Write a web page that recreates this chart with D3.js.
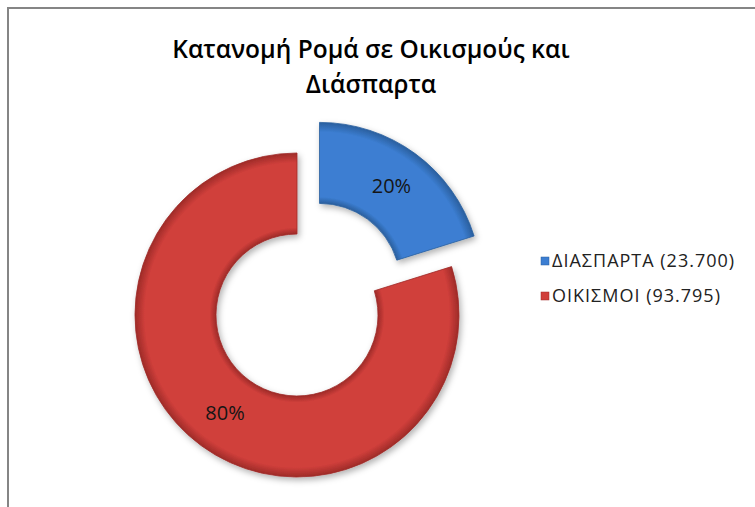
<!DOCTYPE html>
<html>
<head>
<meta charset="utf-8">
<script src="https://cdn.jsdelivr.net/npm/d3@7"></script>
<style>
  body { margin: 0; background: #fff; }
  text { font-family: "Open Sans", "Noto Sans", sans-serif; }
</style>
</head>
<body>
<div id="chart"></div>
<script>
// data
const categories = ["ΔΙΑΣΠΑΡΤΑ", "ΟΙΚΙΣΜΟΙ"];
const values = [23700, 93795];
const legendLabels = ["ΔΙΑΣΠΑΡΤΑ (23.700)", "ΟΙΚΙΣΜΟΙ (93.795)"];
const colors = ["#3c7ed2", "#d03f3b"];
const darkColors = ["#2a5f9e", "#9e2b28"];

const width = 755, height = 507;
const cx = 297, cy = 315;
const outerR = 162, innerR = 81;
const explode = [38, 0];

const svg = d3.select("#chart").append("svg")
  .attr("width", width)
  .attr("height", height);

// frame
svg.append("rect")
  .attr("x", 8).attr("y", 8)
  .attr("width", width).attr("height", height)
  .attr("fill", "#fff")
  .attr("stroke", "#858585").attr("stroke-width", 2);

// title
const title = svg.append("text")
  .attr("text-anchor", "middle")
  .attr("font-size", 24.5)
  .attr("font-weight", 600)
  .attr("fill", "#000");
title.append("tspan").attr("x", 371).attr("y", 58).text("Κατανομή Ρομά σε Οικισμούς και");
title.append("tspan").attr("x", 371).attr("y", 93).text("Διάσπαρτα");

// gradients and shadow for the bevel look
const defs = svg.append("defs");
colors.forEach((c, i) => {
  const g = defs.append("radialGradient")
    .attr("id", "grad" + i)
    .attr("gradientUnits", "userSpaceOnUse")
    .attr("cx", 0).attr("cy", 0).attr("r", outerR);
  g.append("stop").attr("offset", "50%").attr("stop-color", darkColors[i]);
  g.append("stop").attr("offset", "54%").attr("stop-color", c);
  g.append("stop").attr("offset", "94%").attr("stop-color", c);
  g.append("stop").attr("offset", "100%").attr("stop-color", darkColors[i]);
});
const shadow = defs.append("filter").attr("id", "shadow")
  .attr("x", "-20%").attr("y", "-20%").attr("width", "140%").attr("height", "140%");
shadow.append("feDropShadow")
  .attr("dx", 2).attr("dy", 3).attr("stdDeviation", 3)
  .attr("flood-color", "#000").attr("flood-opacity", 0.3);

const total = d3.sum(values);
const pie = d3.pie().sort(null).value(d => d)(values);
const arc = d3.arc().innerRadius(innerR).outerRadius(outerR);
const labelArc = d3.arc().innerRadius((innerR + outerR) / 2).outerRadius((innerR + outerR) / 2);

const slices = svg.selectAll("g.slice")
  .data(pie)
  .join("g")
  .attr("class", "slice")
  .attr("transform", (d, i) => {
    const mid = (d.startAngle + d.endAngle) / 2;
    const dx = Math.sin(mid) * explode[i];
    const dy = -Math.cos(mid) * explode[i];
    return `translate(${cx + dx},${cy + dy})`;
  });

slices.append("path")
  .attr("d", arc)
  .attr("fill", (d, i) => `url(#grad${i})`)
  .attr("stroke", (d, i) => darkColors[i])
  .attr("stroke-width", 0.8)
  .attr("filter", "url(#shadow)");

slices.append("text")
  .attr("transform", d => `translate(${labelArc.centroid(d)})`)
  .attr("text-anchor", "middle")
  .attr("dy", "0.35em")
  .attr("font-size", 20)
  .attr("fill", "#151515")
  .text(d => Math.round(d.value / total * 100) + "%");

// legend
const legend = svg.selectAll("g.legend")
  .data(legendLabels)
  .join("g")
  .attr("class", "legend")
  .attr("transform", (d, i) => `translate(541,${261 + i * 35})`);

legend.append("rect")
  .attr("x", 0).attr("y", -4)
  .attr("width", 8).attr("height", 8)
  .attr("fill", (d, i) => colors[i])
  .attr("stroke", (d, i) => darkColors[i])
  .attr("stroke-width", 0.5);

legend.append("text")
  .attr("x", 11)
  .attr("dy", "0.35em")
  .attr("font-size", 18)
  .attr("letter-spacing", 1)
  .attr("fill", "#222")
  .text(d => d);
</script>
</body>
</html>
